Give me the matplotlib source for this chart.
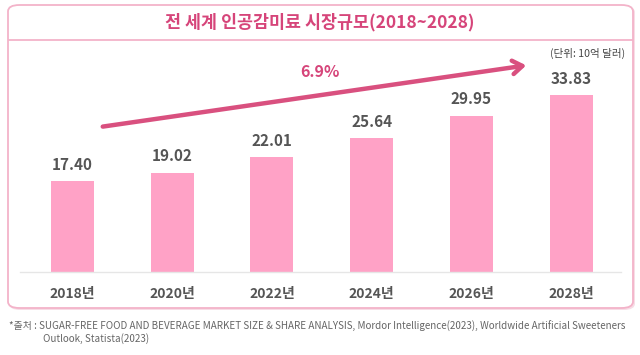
import matplotlib
matplotlib.use("Agg")
import matplotlib.pyplot as plt
from matplotlib.patches import FancyBboxPatch, FancyArrowPatch
from matplotlib.lines import Line2D

plt.rcParams['font.family'] = ['Noto Sans CJK KR', 'DejaVu Sans']

years = ["2018년", "2020년", "2022년", "2024년", "2026년", "2028년"]
values = [17.40, 19.02, 22.01, 25.64, 29.95, 33.83]
value_labels = ["17.40", "19.02", "22.01", "25.64", "29.95", "33.83"]
title = "전 세계 인공감미료 시장규모(2018~2028)"
unit = "(단위: 10억 달러)"
cagr = "6.9%"
source1 = "*출처 : SUGAR-FREE FOOD AND BEVERAGE MARKET SIZE & SHARE ANALYSIS, Mordor Intelligence(2023), Worldwide Artificial Sweeteners"
source2 = "Outlook, Statista(2023)"

W, H = 640, 355
fig = plt.figure(figsize=(W / 100, H / 100), dpi=100)
fig.patch.set_facecolor("white")

def fx(px):
    return px / W

def fy(py):
    return 1 - py / H

PINK = "#d6457a"
BAR = "#ffa2c6"
BORDER = "#f3b3c9"
GRAY = "#555555"

# outer rounded box with faint shadow
shadow = FancyBboxPatch((fx(9), fy(310)), fx(626), (310 - 6) / H,
                        boxstyle="round,pad=0,rounding_size=0.018",
                        transform=fig.transFigure, facecolor="#f7dde6",
                        edgecolor="none", zorder=0)
fig.patches.append(shadow)
box = FancyBboxPatch((fx(8), fy(308)), fx(625), (308 - 5) / H,
                     boxstyle="round,pad=0,rounding_size=0.018",
                     transform=fig.transFigure, facecolor="white",
                     edgecolor=BORDER, linewidth=1.3, zorder=1)
fig.patches.append(box)
fig.lines.append(Line2D([fx(9), fx(632)], [fy(40), fy(40)], transform=fig.transFigure,
                        color=BORDER, linewidth=1.3, zorder=2))

fig.text(fx(320), fy(22), title, ha="center", va="center", fontsize=12.5,
         fontweight="bold", color=PINK, zorder=3)
fig.text(fx(625), fy(53), unit, ha="right", va="center", fontsize=7.6, color="#444444", zorder=3)

# bar axes
spacing = 99.7
c0 = 72.5
left_px, right_px = 20, 621
bottom_px = 271.7
px_per_unit = 5.21
ymax = 40
ax = fig.add_axes([fx(left_px), fy(bottom_px), (right_px - left_px) / W,
                   ymax * px_per_unit / H])
ax.set_facecolor("none")
ax.set_zorder(3)
x = list(range(len(years)))
ax.bar(x, values, width=43 / spacing, color=BAR, zorder=2)
ax.set_xlim((left_px - c0) / spacing, (right_px - c0) / spacing)
ax.set_ylim(0, ymax)
for s in ["top", "right", "left"]:
    ax.spines[s].set_visible(False)
ax.spines["bottom"].set_color("#e6e6e6")
ax.spines["bottom"].set_linewidth(1.0)
ax.set_yticks([])
ax.set_xticks(x)
ax.set_xticklabels(years, fontsize=10, fontweight="bold", color=GRAY)
ax.tick_params(axis="x", length=0, pad=11)
for xi, v, lab in zip(x, values, value_labels):
    ax.annotate(lab, (xi, v), xytext=(0, 6), textcoords="offset points",
                ha="center", va="bottom", fontsize=11, fontweight="bold", color=GRAY)

# CAGR arrow
arrow = FancyArrowPatch((fx(100), fy(127)), (fx(529), fy(65)), transform=fig.transFigure,
                        arrowstyle="->,head_length=3.2,head_width=2.2", color="#d9507f",
                        linewidth=3.2, mutation_scale=2.2, zorder=4)
fig.patches.append(arrow)
fig.text(fx(320), fy(72), cagr, ha="center", va="center", fontsize=11.5,
         fontweight="bold", color=PINK, zorder=4)

fig.text(fx(9), fy(326), source1, ha="left", va="center", fontsize=7.1, color="#666666")
fig.text(fx(43), fy(339), source2, ha="left", va="center", fontsize=7.1, color="#666666")

fig.savefig("out.png", dpi=100, facecolor="white")
